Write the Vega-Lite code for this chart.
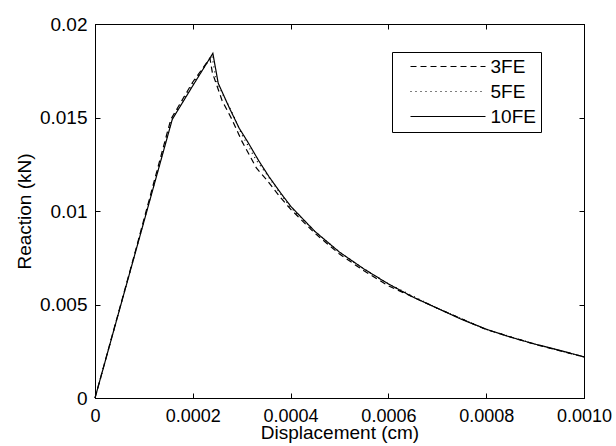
{
  "$schema": "https://vega.github.io/schema/vega-lite/v6.json",
  "width": 489,
  "height": 374,
  "autosize": {"type": "none"},
  "padding": {"left": 95, "top": 24, "right": 32, "bottom": 48},
  "background": "white",
  "config": {
    "font": "Liberation Sans",
    "view": {"stroke": "black", "strokeWidth": 1},
    "axis": {
      "domainColor": "black", "tickColor": "black", "labelColor": "black", "titleColor": "black",
      "labelFontSize": 19, "titleFontSize": 19, "titleFontWeight": "normal",
      "labelFont": "Liberation Sans", "titleFont": "Liberation Sans",
      "tickSize": -5, "grid": false, "domainWidth": 1, "tickWidth": 1,
      "labelFlush": false, "labelOverlap": false, "labelBound": false
    }
  },
  "data": {"values": [
    {"model": "3FE", "d": 0, "r": 0},
    {"model": "3FE", "d": 0.00008, "r": 0.0076},
    {"model": "3FE", "d": 0.000155, "r": 0.0149},
    {"model": "3FE", "d": 0.0002, "r": 0.0169},
    {"model": "3FE", "d": 0.000235, "r": 0.01817},
    {"model": "3FE", "d": 0.00024, "r": 0.0174},
    {"model": "3FE", "d": 0.00026, "r": 0.0159},
    {"model": "3FE", "d": 0.00028, "r": 0.0149},
    {"model": "3FE", "d": 0.0003, "r": 0.01375},
    {"model": "3FE", "d": 0.00033, "r": 0.0123},
    {"model": "3FE", "d": 0.00035, "r": 0.0117},
    {"model": "3FE", "d": 0.00038, "r": 0.0107},
    {"model": "3FE", "d": 0.0004, "r": 0.0101},
    {"model": "3FE", "d": 0.00045, "r": 0.0088},
    {"model": "3FE", "d": 0.0005, "r": 0.0077},
    {"model": "3FE", "d": 0.00055, "r": 0.0068},
    {"model": "3FE", "d": 0.0006, "r": 0.006},
    {"model": "3FE", "d": 0.0007, "r": 0.0048},
    {"model": "3FE", "d": 0.0008, "r": 0.00366},
    {"model": "3FE", "d": 0.0009, "r": 0.00287},
    {"model": "3FE", "d": 0.001, "r": 0.0022},
    {"model": "5FE", "d": 0, "r": 0},
    {"model": "5FE", "d": 0.00008, "r": 0.00755},
    {"model": "5FE", "d": 0.000157, "r": 0.0149},
    {"model": "5FE", "d": 0.0002, "r": 0.0168},
    {"model": "5FE", "d": 0.000239, "r": 0.0183},
    {"model": "5FE", "d": 0.000248, "r": 0.017},
    {"model": "5FE", "d": 0.00026, "r": 0.0163},
    {"model": "5FE", "d": 0.00028, "r": 0.0153},
    {"model": "5FE", "d": 0.0003, "r": 0.0141},
    {"model": "5FE", "d": 0.00033, "r": 0.0127},
    {"model": "5FE", "d": 0.00035, "r": 0.012},
    {"model": "5FE", "d": 0.00038, "r": 0.0109},
    {"model": "5FE", "d": 0.0004, "r": 0.0102},
    {"model": "5FE", "d": 0.00045, "r": 0.0089},
    {"model": "5FE", "d": 0.0005, "r": 0.0078},
    {"model": "5FE", "d": 0.00055, "r": 0.0069},
    {"model": "5FE", "d": 0.0006, "r": 0.0061},
    {"model": "5FE", "d": 0.0007, "r": 0.0048},
    {"model": "5FE", "d": 0.0008, "r": 0.00367},
    {"model": "5FE", "d": 0.0009, "r": 0.00288},
    {"model": "5FE", "d": 0.001, "r": 0.0022},
    {"model": "10FE", "d": 0, "r": 0},
    {"model": "10FE", "d": 0.00008, "r": 0.00754},
    {"model": "10FE", "d": 0.000158, "r": 0.0149},
    {"model": "10FE", "d": 0.0002, "r": 0.0167},
    {"model": "10FE", "d": 0.000241, "r": 0.01843},
    {"model": "10FE", "d": 0.000252, "r": 0.01683},
    {"model": "10FE", "d": 0.000275, "r": 0.0155},
    {"model": "10FE", "d": 0.000295, "r": 0.01442},
    {"model": "10FE", "d": 0.000312, "r": 0.01371},
    {"model": "10FE", "d": 0.000335, "r": 0.01268},
    {"model": "10FE", "d": 0.000356, "r": 0.01183},
    {"model": "10FE", "d": 0.00038, "r": 0.01095},
    {"model": "10FE", "d": 0.000401, "r": 0.01023},
    {"model": "10FE", "d": 0.00045, "r": 0.0089},
    {"model": "10FE", "d": 0.0005, "r": 0.0078},
    {"model": "10FE", "d": 0.00055, "r": 0.0069},
    {"model": "10FE", "d": 0.0006, "r": 0.0061},
    {"model": "10FE", "d": 0.00065, "r": 0.0054},
    {"model": "10FE", "d": 0.0007, "r": 0.0048},
    {"model": "10FE", "d": 0.00075, "r": 0.0042},
    {"model": "10FE", "d": 0.0008, "r": 0.00368},
    {"model": "10FE", "d": 0.00085, "r": 0.00325},
    {"model": "10FE", "d": 0.0009, "r": 0.00288},
    {"model": "10FE", "d": 0.00095, "r": 0.00255},
    {"model": "10FE", "d": 0.001, "r": 0.0022}
  ]},
  "resolve": {"axis": {"x": "independent", "y": "independent"}},
  "layer": [
    {
      "mark": {"type": "line", "color": "black", "strokeWidth": 1.2},
      "encoding": {
        "x": {"field": "d", "type": "quantitative",
          "scale": {"domain": [0, 0.001], "nice": false, "zero": false},
          "axis": {"orient": "bottom", "values": [0, 0.0002, 0.0004, 0.0006, 0.0008, 0.001],
            "labelExpr": "datum.value == 0 ? '0' : format(datum.value, '.4f')",
            "labelFontSize": 18, "labelPadding": 14, "title": "Displacement (cm)", "titlePadding": -2}},
        "y": {"field": "r", "type": "quantitative",
          "scale": {"domain": [0, 0.02], "nice": false, "zero": false},
          "axis": {"orient": "left", "values": [0, 0.005, 0.01, 0.015, 0.02], "format": ".3~f",
            "labelPadding": 13, "title": "Reaction (kN)", "titlePadding": 5}},
        "strokeDash": {"field": "model", "type": "nominal",
          "scale": {"domain": ["3FE", "5FE", "10FE"], "range": [[6, 4], [1, 4], [1, 0]]},
          "legend": {"title": null, "orient": "none", "legendX": 297, "legendY": 28,
            "strokeColor": "black", "fillColor": "white", "padding": 5,
            "symbolType": "M-7.5,0H7.5", "symbolSize": 100, "symbolStrokeWidth": 1.2,
            "symbolStrokeColor": "black", "symbolOffset": 41.5, "labelOffset": 33,
            "labelFontSize": 19, "labelFont": "Liberation Sans", "labelColor": "black",
            "rowPadding": 5}}
      }
    },
    {
      "mark": {"type": "line", "opacity": 0},
      "encoding": {
        "x": {"field": "d", "type": "quantitative",
          "scale": {"domain": [0, 0.001], "nice": false, "zero": false},
          "axis": {"orient": "top", "values": [0, 0.0002, 0.0004, 0.0006, 0.0008, 0.001], "labels": false, "title": null}},
        "y": {"field": "r", "type": "quantitative",
          "scale": {"domain": [0, 0.02], "nice": false, "zero": false},
          "axis": {"orient": "right", "values": [0, 0.005, 0.01, 0.015, 0.02], "labels": false, "title": null}},
        "detail": {"field": "model", "type": "nominal"}
      }
    }
  ]
}
